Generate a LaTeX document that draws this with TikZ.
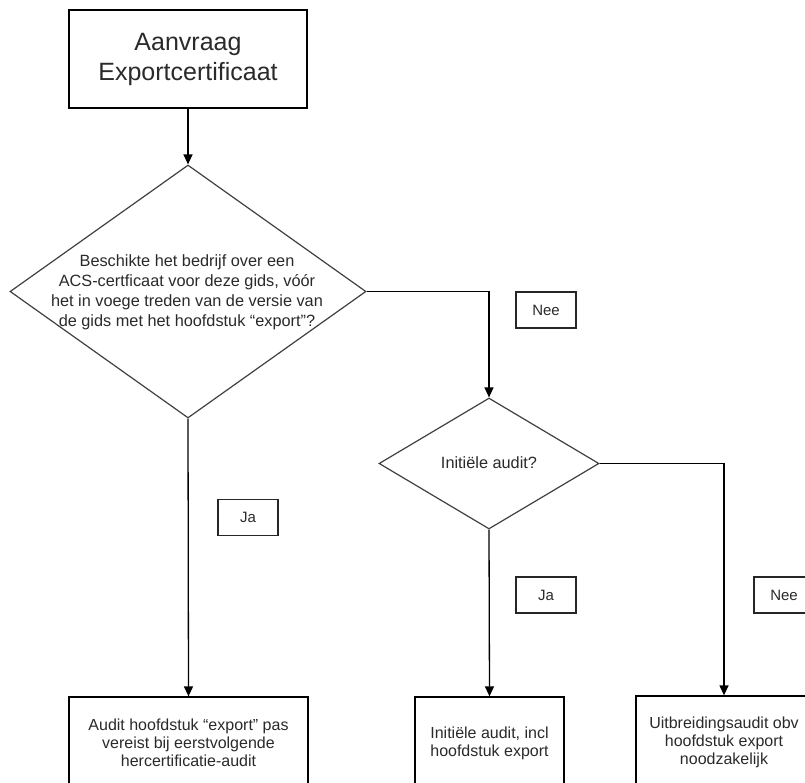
\documentclass[tikz,border=0pt]{standalone}
\usepackage{fontspec}
\setmainfont{Liberation Sans}
\usetikzlibrary{shapes.geometric,arrows.meta}
\definecolor{txtgray}{HTML}{2A2A2A}
\tikzset{
  box/.style={draw=black, line width=1.3pt, rectangle, inner sep=0pt, align=center, text=txtgray, font=\fontsize{16}{18}\selectfont},
  dia/.style={draw=black!75, line width=1.2pt, diamond, inner sep=0pt, aspect=1},
  lbl/.style={draw=black!85, line width=1.2pt, rectangle, inner sep=0pt, minimum width=60pt, minimum height=36pt, text=txtgray, font=\fontsize{15}{17}\selectfont},
  dtext/.style={align=center, text=txtgray, font=\fontsize{16.3}{20}\selectfont},
  conn/.style={draw=black, line width=1.3pt, -{Triangle[length=10pt,width=9pt]}},
  plain/.style={draw=black, line width=1.3pt}
}
\begin{document}
\begin{tikzpicture}[x=1pt,y=-1pt]
\clip (0,0) rectangle (805,783);
\fill[white] (0,0) rectangle (805,783);
% start box
\node[box, minimum width=238pt, minimum height=98pt, font=\fontsize{25}{30}\selectfont] (start) at (188,59) {Aanvraag\\Exportcertificaat};
% diamond 1
\node[dia, minimum width=356pt, minimum height=253pt] (d1) at (188,291.5) {};
\node[dtext] (d1t) at (187,292) {Beschikte het bedrijf over een\\ACS-certficaat voor deze gids, vóór\\het in voege treden van de versie van\\de gids met het hoofdstuk “export”?};
% diamond 2
\node[dia, minimum width=220pt, minimum height=131pt] (d2) at (489,463.5) {};
\node[dtext] (d2t) at (489,463) {Initiële audit?};
% result boxes
\node[box, minimum width=239pt, minimum height=92pt] (r1) at (188.5,743) {Audit hoofdstuk “export” pas\\vereist bij eerstvolgende\\hercertificatie-audit};
\node[box, minimum width=149pt, minimum height=92pt] (r2) at (489.5,743) {Initiële audit, incl\\hoofdstuk export};
\node[box, minimum width=176pt, minimum height=92pt] (r3) at (724,742) {Uitbreidingsaudit obv\\hoofdstuk export\\noodzakelijk};
% labels
\node[lbl] (l1) at (546,310) {Nee};
\node[lbl] (l2) at (248,517.5) {Ja};
\node[lbl] (l3) at (546,595) {Ja};
\node[lbl] (l4) at (784,595) {Nee};
% connectors
\coordinate (c1) at (489,291.5);
\coordinate (c2) at (724,463.5);
\draw[conn] (start.south) -- (d1.north);
\draw[conn] (d1.south) -- (r1.north);
\draw[conn] (d1.east) -- (c1) -- (d2.north);
\draw[conn] (d2.south) -- (r2.north);
\draw[conn] (d2.east) -- (c2) -- (r3.north);
\end{tikzpicture}
\end{document}
